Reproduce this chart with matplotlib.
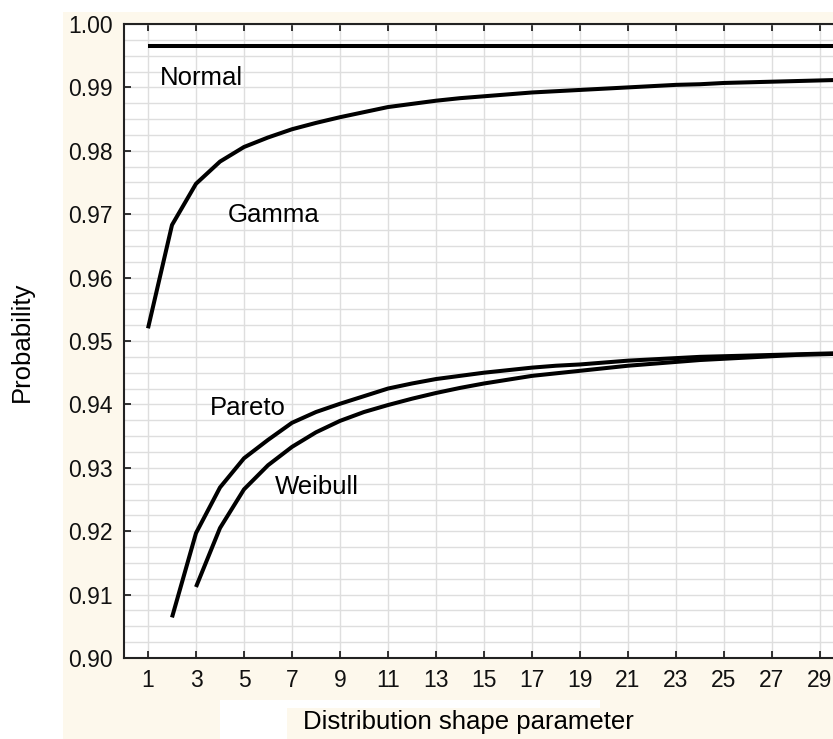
import matplotlib
matplotlib.use('Agg')
import matplotlib.pyplot as plt
from matplotlib.patches import Rectangle
from matplotlib.ticker import MultipleLocator
import numpy as np

plt.rcParams['font.family'] = ['Liberation Sans', 'DejaVu Sans']

# shape parameter values
x_gamma = list(range(1, 31))
x_pareto = list(range(2, 31))
x_weibull = list(range(3, 31))
x_normal = [1, 30]

normal = [0.9965, 0.9965]
gamma = [0.9520, 0.9683, 0.9748, 0.9783, 0.9806, 0.9821, 0.9834, 0.9844, 0.9853, 0.9861,
         0.9869, 0.9874, 0.9879, 0.9883, 0.9886, 0.9889, 0.9892, 0.9894, 0.9896, 0.9898,
         0.9900, 0.9902, 0.9904, 0.9905, 0.9907, 0.9908, 0.9909, 0.9910, 0.9911, 0.9912]
pareto = [0.9064, 0.9197, 0.9269, 0.9315, 0.9344, 0.9371, 0.9388, 0.9401, 0.9413,
          0.9425, 0.9433, 0.9440, 0.9445, 0.9450, 0.9454, 0.9458, 0.9461, 0.9463, 0.9466,
          0.9469, 0.9471, 0.9473, 0.9475, 0.9476, 0.9477, 0.9478, 0.9479, 0.9480, 0.9481]
weibull = [0.9112, 0.9205, 0.9266, 0.9304, 0.9333, 0.9356, 0.9374, 0.9388,
           0.9399, 0.9409, 0.9418, 0.9426, 0.9433, 0.9439, 0.9445, 0.9449, 0.9453, 0.9457,
           0.9461, 0.9464, 0.9467, 0.9470, 0.9472, 0.9474, 0.9476, 0.9478, 0.9479, 0.9480]

x_ticks = list(range(1, 30, 2))

W, H = 833, 739
fig = plt.figure(figsize=(W / 100, H / 100), dpi=100, facecolor='white')

# beige background panel + white patches behind the x label
beige = '#fdf8ec'
fig.add_artist(Rectangle((63 / W, 0), 1 - 63 / W, 1 - 12 / H, transform=fig.transFigure,
                         facecolor=beige, edgecolor='none', zorder=-10))
fig.add_artist(Rectangle((220 / W, 1 - 708 / H), (600 - 220) / W, 8 / H, transform=fig.transFigure,
                         facecolor='white', edgecolor='none', zorder=-9))
fig.add_artist(Rectangle((220 / W, 0), (287 - 220) / W, 1 - 700 / H, transform=fig.transFigure,
                         facecolor='white', edgecolor='none', zorder=-9))

ax = fig.add_axes([124 / W, 1 - 658 / H, 1 - 124 / W, (658 - 24) / H])
ax.set_facecolor('white')

lw = 2.9
ax.plot(x_normal, normal, color='black', lw=lw, solid_capstyle='butt')
ax.plot(x_gamma, gamma, color='black', lw=lw, solid_capstyle='butt')
ax.plot(x_pareto, pareto, color='black', lw=lw, solid_capstyle='butt')
ax.plot(x_weibull, weibull, color='black', lw=lw, solid_capstyle='butt')

fs = 18.5
ax.text(1.5, 0.99038, 'Normal', fontsize=fs, ha='left', va='baseline')
ax.text(4.33, 0.96882, 'Gamma', fontsize=fs, ha='left', va='baseline')
ax.text(3.58, 0.93833, 'Pareto', fontsize=fs, ha='left', va='baseline')
ax.text(6.29, 0.92587, 'Weibull', fontsize=fs, ha='left', va='baseline')

ax.set_xlim(0, (W - 148) / 24 + 1)
ax.set_ylim(0.90, 1.00)
ax.set_xticks(x_ticks)
ax.yaxis.set_major_locator(MultipleLocator(0.01))
ax.yaxis.set_minor_locator(MultipleLocator(0.0025))
ax.yaxis.set_major_formatter(plt.FormatStrFormatter('%.2f'))

ax.grid(True, which='major', color='#dedede', lw=1)
ax.grid(True, which='minor', axis='y', color='#dedede', lw=1)
ax.set_axisbelow(True)

ax.tick_params(axis='both', which='major', direction='in', length=5, width=1.2,
               labelsize=16.5, colors='#111111', top=True)
ax.tick_params(axis='x', pad=8)
ax.tick_params(axis='y', pad=8)
ax.tick_params(axis='y', which='minor', length=0)
for s in ['left', 'bottom', 'top']:
    ax.spines[s].set_linewidth(1.5)
    ax.spines[s].set_color('#222222')
ax.spines['right'].set_visible(False)

fig.text(468 / W, 1 - 722 / H, 'Distribution shape parameter', fontsize=18.5,
         ha='center', va='center')
fig.text(22 / W, 1 - 342 / H, 'Probability', fontsize=18.5, rotation=90,
         ha='center', va='center')

fig.savefig('out.png', dpi=100, facecolor=fig.get_facecolor())
